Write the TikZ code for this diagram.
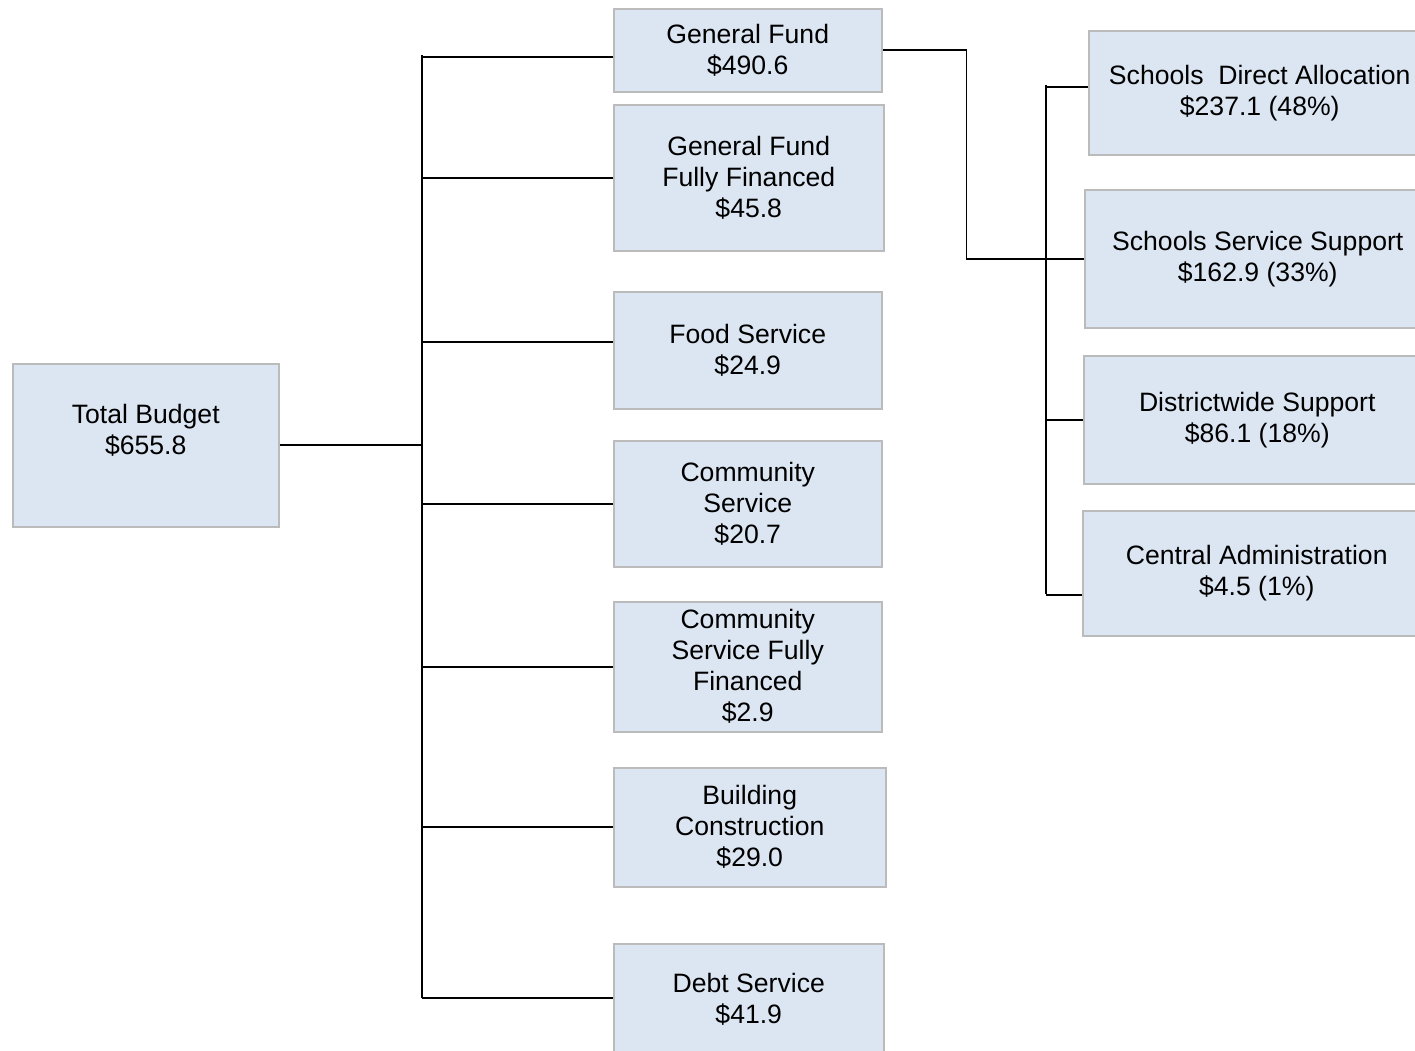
\documentclass[tikz,border=0pt]{standalone}
\usepackage{fontspec}
\setmainfont{Liberation Sans}
\usetikzlibrary{arrows, positioning}
\definecolor{boxfill}{HTML}{DCE6F2}
\definecolor{boxline}{HTML}{BBBBBB}

\begin{document}
\begin{tikzpicture}[x=1pt, y=-1pt]
		\tikzstyle{Box} = [rectangle, anchor=north west, align=center, draw=boxline, line width=1.5pt, fill=boxfill, inner sep=0pt, font=\fontsize{26.6}{31}\selectfont]
		\tikzstyle{link} = [line width=1.8pt, black]
		
		\useasboundingbox (0,0) rectangle (1415,1050);
		
		\node (total) [Box, minimum width=266pt, minimum height=163pt] at (12,363) {Total Budget\\\$655.8\\~};
		
		\node (gf) [Box, minimum width=268pt, minimum height=83pt] at (613,8) {General Fund\\\$490.6};
		\node (gfff) [Box, minimum width=270pt, minimum height=146pt] at (613,104) {General Fund\\Fully Financed\\\$45.8};
		\node (food) [Box, minimum width=268pt, minimum height=117pt] at (613,291) {Food Service\\\$24.9};
		\node (cs) [Box, minimum width=268pt, minimum height=126pt] at (613,440) {Community\\Service\\\$20.7};
		\node (csff) [Box, minimum width=268pt, minimum height=130pt] at (613,601) {Community\\Service Fully\\Financed\\\$2.9};
		\node (bc) [Box, minimum width=272pt, minimum height=119pt] at (613,767) {Building\\Construction\\\$29.0};
		\node (ds) [Box, minimum width=270pt, minimum height=112pt] at (613,943) {Debt Service\\\$41.9};
		
		\node (sda) [Box, minimum width=342pt, minimum height=124pt] at (1088,30) {Schools~ Direct Allocation\\\$237.1 (48\%)};
		\node (ssup) [Box, minimum width=346pt, minimum height=138pt] at (1084,189) {Schools Service Support\\\$162.9 (33\%)};
		\node (dws) [Box, minimum width=347pt, minimum height=128pt] at (1083,355) {Districtwide Support\\\$86.1 (18\%)};
		\node (cadm) [Box, minimum width=348pt, minimum height=125pt] at (1082,510) {Central Administration\\\$4.5 (1\%)};
		
		\coordinate (trunk) at (422,55);
		\coordinate (trunkend) at (422,998);
		\draw [link] (trunk) -- (trunkend);
		\draw [link] (total.east) -- (total.east -| trunk);
		\draw [link] ([yshift=-6.5pt]gf.west) -- ([yshift=-6.5pt]gf.west -| trunk);
		\draw [link] (gfff.west) -- (gfff.west -| trunk);
		\draw [link] ([yshift=8.5pt]food.west) -- ([yshift=8.5pt]food.west -| trunk);
		\draw [link] (cs.west) -- (cs.west -| trunk);
		\draw [link] (csff.west) -- (csff.west -| trunk);
		\draw [link] (bc.west) -- (bc.west -| trunk);
		\draw [link] ([yshift=2pt]ds.west) -- ([yshift=2pt]ds.west -| trunk);
		
		\draw [link] (gf.east) -- ++(84,0) |- (ssup.west);
		
		\coordinate (trunk2) at (1046,85);
		\coordinate (trunk2end) at (1046,594);
		\draw [link] (trunk2) -- (trunk2end);
		\draw [link] ([yshift=6pt]sda.west) -- ([yshift=6pt]sda.west -| trunk2);
		\draw [link] (dws.west) -- (dws.west -| trunk2);
		\draw [link] ([yshift=-21.5pt]cadm.west) -- ([yshift=-21.5pt]cadm.west -| trunk2);
\end{tikzpicture}
\end{document}
